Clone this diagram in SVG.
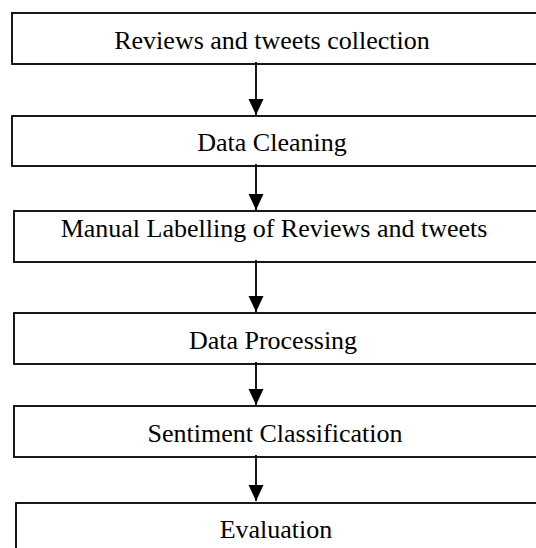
<svg xmlns="http://www.w3.org/2000/svg" width="536" height="548" viewBox="0 0 536 548">
<style>
.box{fill:#fff;stroke:#000;stroke-width:1.8}
.lbl{font-family:"Liberation Serif","Times New Roman",serif;font-size:26px;fill:#000;text-anchor:middle}
.con{stroke:#000;stroke-width:1.8;fill:none}
</style>
<defs>
<marker id="ah" markerUnits="userSpaceOnUse" markerWidth="16" markerHeight="16" viewBox="0 0 16 16" refX="16" refY="8" orient="auto">
<path d="M0,0.5 L16,8 L0,15.5 Z" fill="#000"/>
</marker>
</defs>
<rect width="536" height="548" fill="#fff"/>
<g id="n1"><rect class="box" x="12" y="13" width="540" height="51"/><text class="lbl" x="272" y="49">Reviews and tweets collection</text></g>
<g id="n2"><rect class="box" x="12" y="116" width="540" height="50"/><text class="lbl" x="272" y="151">Data Cleaning</text></g>
<g id="n3"><rect class="box" x="14" y="211" width="540" height="51"/><text class="lbl" x="274" y="237">Manual Labelling of Reviews and tweets</text></g>
<g id="n4"><rect class="box" x="14" y="313" width="540" height="51"/><text class="lbl" x="273" y="349">Data Processing</text></g>
<g id="n5"><rect class="box" x="14" y="406" width="540" height="51"/><text class="lbl" x="275" y="442">Sentiment Classification</text></g>
<g id="n6"><rect class="box" x="16" y="503" width="540" height="60"/><text class="lbl" x="276" y="538">Evaluation</text></g>
<g id="connectors">
<line class="con" x1="256" y1="62" x2="256" y2="115" marker-end="url(#ah)"/>
<line class="con" x1="256" y1="164" x2="256" y2="210" marker-end="url(#ah)"/>
<line class="con" x1="256" y1="260" x2="256" y2="312" marker-end="url(#ah)"/>
<line class="con" x1="256" y1="362" x2="256" y2="405" marker-end="url(#ah)"/>
<line class="con" x1="256" y1="455" x2="256" y2="501" marker-end="url(#ah)"/>
</g>
</svg>
